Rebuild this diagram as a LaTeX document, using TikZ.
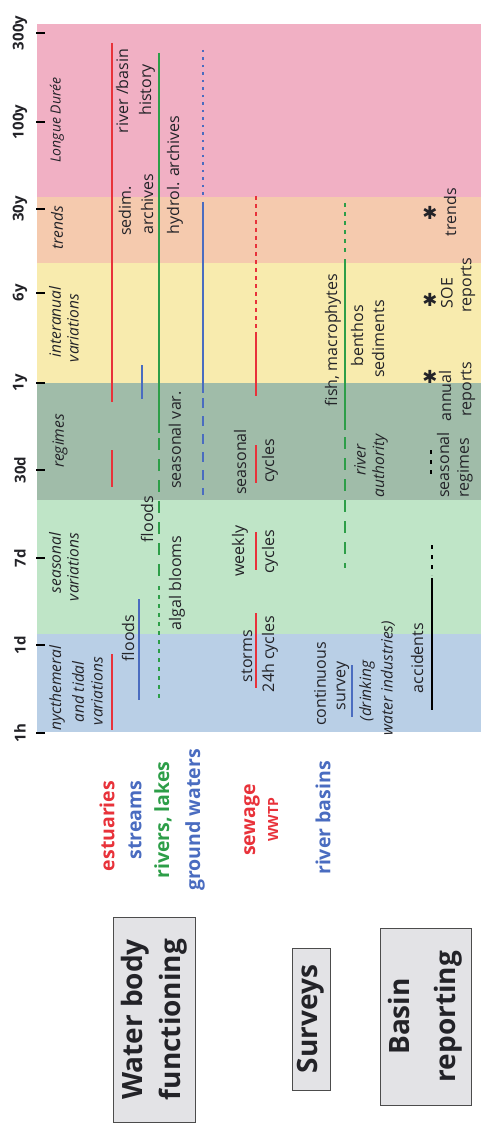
\documentclass[tikz,border=0pt]{standalone}
\usepackage{fontspec}
\setmainfont{Open Sans}
\newfontfamily\starfont{DejaVu Sans}
\definecolor{bandpink}{RGB}{241,176,196}
\definecolor{bandpeach}{RGB}{245,202,174}
\definecolor{bandyellow}{RGB}{248,235,174}
\definecolor{bandsage}{RGB}{160,188,169}
\definecolor{bandmint}{RGB}{191,229,199}
\definecolor{bandblue}{RGB}{185,207,230}
\definecolor{linered}{RGB}{232,50,58}
\definecolor{lineblue}{RGB}{74,108,192}
\definecolor{linegreen}{RGB}{45,158,72}
\definecolor{boxgray}{RGB}{227,227,230}
\definecolor{textdark}{RGB}{35,35,40}
\tikzset{
  lab/.style={rotate=90, inner sep=0pt, text=textdark, font=\fontsize{16}{18}\selectfont},
  itlab/.style={rotate=90, inner sep=0pt, text=textdark, font=\fontsize{15.5}{17}\selectfont\itshape},
  ticklab/.style={rotate=90, inner sep=0pt, text=textdark, font=\fontsize{15}{16}\selectfont\bfseries},
  grouplab/.style={rotate=90, inner sep=0pt, font=\fontsize{19.5}{21}\selectfont\bfseries},
  titlebox/.style={rotate=90, draw=black!70, line width=1pt, fill=boxgray, align=center, inner sep=0pt, text=textdark},
  starlab/.style={inner sep=0pt, text=textdark, font=\fontsize{18}{18}\selectfont\starfont},
  spanline/.style={line width=2pt},
  dots/.style={dash pattern=on 2.5pt off 5pt},
  shortdashes/.style={dash pattern=on 4pt off 5pt},
  longdashes/.style={dash pattern=on 12pt off 9pt}
}
\begin{document}
\begin{tikzpicture}[x=1pt,y=-1pt]
\useasboundingbox (0,0) rectangle (481,1123);
\foreach \ya/\yb/\c in {24/197/bandpink,197/263/bandpeach,263/383/bandyellow,383/500/bandsage,500/634/bandmint,634/732/bandblue}
  \fill[\c] (37,\ya) rectangle (481,\yb);
\foreach \y/\t in {33/300y,122/100y,209/30y,293/6y,383/1y,470/30d,558/7d,645/1d,733/1h} {
  \draw[line width=2pt] (36,\y) -- (45,\y);
  \node[ticklab] (tick\t) at (20,\y) {\t};
}
\node[itlab, font=\fontsize{14}{16}\selectfont\itshape] (longue) at (57,120) {Longue Durée};
\node[itlab] (trendsA) at (57,228) {trends};
\node[itlab] (interA) at (55,322) {interanual};
\node[itlab] (interB) at (73,328) {variations};
\node[itlab] (regimesA) at (60,441) {regimes};
\node[itlab] (seasA) at (55,563) {seasonal};
\node[itlab] (seasB) at (73,567) {variations};
\node[itlab] (nycA) at (57,688) {nycthemeral};
\node[itlab] (nycB) at (78,692) {and tidal};
\node[itlab] (nycC) at (97,691) {variations};
% estuaries
\draw[spanline, linered] (112,43) -- (112,402);
\draw[spanline, linered] (112,450) -- (112,487);
\draw[spanline, linered] (112,654) -- (112,730);
% streams
\draw[spanline, lineblue] (142,365) -- (142,399);
\draw[spanline, lineblue] (139,599) -- (139,700);
% rivers, lakes
\draw[spanline, linegreen] (159,53) -- (159,433);
\draw[spanline, linegreen, longdashes] (159,438) -- (159,580);
\draw[spanline, linegreen, shortdashes] (159,586) -- (159,700);
% ground waters
\draw[spanline, lineblue, dots] (203,50) -- (203,197);
\draw[spanline, lineblue] (203,202) -- (203,393);
\draw[spanline, lineblue, dash pattern=on 10pt off 8pt] (203,398) -- (203,495);
% sewage
\draw[spanline, linered, dash pattern=on 4pt off 4pt] (256,196) -- (256,329);
\draw[spanline, linered] (256,332) -- (256,396);
\draw[spanline, linered] (256,445) -- (256,483);
\draw[spanline, linered] (256,532) -- (256,570);
\draw[spanline, linered] (256,613) -- (256,688);
% river basins
\draw[spanline, linegreen, shortdashes] (345,203) -- (345,254);
\draw[spanline, linegreen] (345,259) -- (345,430);
\draw[spanline, linegreen, longdashes] (345,437) -- (345,568);
\draw[spanline, lineblue] (352,665) -- (352,717);
% accidents
\draw[spanline, black] (432,578) -- (432,710);
\draw[spanline, black, dash pattern=on 4pt off 6pt] (432,545) -- (432,575);
\draw[spanline, black, dash pattern=on 4pt off 6pt] (431,450) -- (431,478);
\node[lab] (riverbasin) at (122,91) {river /basin};
\node[lab] (history) at (147,90) {history};
\node[lab] (sedim) at (125,211) {sedim.};
\node[lab] (archives) at (147,204) {archives};
\node[lab] (hydrol) at (175,175) {hydrol. archives};
\node[lab] (seasvar) at (175,440) {seasonal var.};
\node[lab] (floodsA) at (147,519) {floods};
\node[lab] (algal) at (177,583) {algal blooms};
\node[lab] (floodsB) at (128,638) {floods};
\node[lab] (seasonalE) at (240,462) {seasonal};
\node[lab] (cyclesE) at (270,461) {cycles};
\node[lab] (weekly) at (240,551) {weekly};
\node[lab] (cyclesW) at (270,552) {cycles};
\node[lab] (storms) at (247,656) {storms};
\node[lab] (cycles24) at (270,654) {24h cycles};
\node[lab] (fish) at (333,340) {fish, macrophytes};
\node[lab] (benthos) at (357,336) {benthos};
\node[lab] (sediments) at (378,339) {sediments};
\node[itlab] (riverA) at (360,460) {river};
\node[itlab] (authority) at (380,466) {authority};
\node[lab] (continuous) at (320,684) {continuous};
\node[lab] (survey) at (343,686) {survey};
\node[itlab] (drinking) at (367,691) {(drinking};
\node[itlab] (industries) at (388,678) {water industries)};
\node[lab] (accidents) at (417,658) {accidents};
\node[lab] (seasonalG) at (443,465) {seasonal};
\node[lab] (regimesG) at (465,468) {regimes};
\node[starlab] (starA) at (430,377) {✱};
\node[starlab] (starB) at (430,300) {✱};
\node[starlab] (starC) at (430,213) {✱};
\node[lab] (annual) at (445,396) {annual};
\node[lab] (reportsA) at (468,389) {reports};
\node[lab] (soe) at (447,293) {SOE};
\node[lab] (reportsB) at (468,285) {reports};
\node[lab] (trendsG) at (450,212) {trends};
\node[grouplab, text=linered] (estuaries) at (107,826) {estuaries};
\node[grouplab, text=lineblue] (streams) at (135,820) {streams};
\node[grouplab, text=linegreen] (rivers) at (163,820) {rivers, lakes};
\node[grouplab, text=lineblue] (ground) at (195,820) {ground waters};
\node[grouplab, text=linered] (sewage) at (252,820) {sewage};
\node[rotate=90, inner sep=0pt, text=linered, font=\fontsize{14}{15}\selectfont\bfseries] (wwtp) at (273,820) {WWTP};
\node[grouplab, text=lineblue] (basins) at (323,818) {river basins};
\node[titlebox, minimum width=205pt, minimum height=82pt, font=\fontsize{28}{38}\selectfont\bfseries] (water) at (154,1019.5) {Water body\\functioning};
\node[titlebox, minimum width=142pt, minimum height=38pt, font=\fontsize{28}{30}\selectfont\bfseries] (surveys) at (311,1019) {Surveys};
\node[titlebox, minimum width=177pt, minimum height=91pt, font=\fontsize{28}{46}\selectfont\bfseries] (basin) at (425.5,1016.5) {Basin\\reporting};
\end{tikzpicture}
\end{document}
